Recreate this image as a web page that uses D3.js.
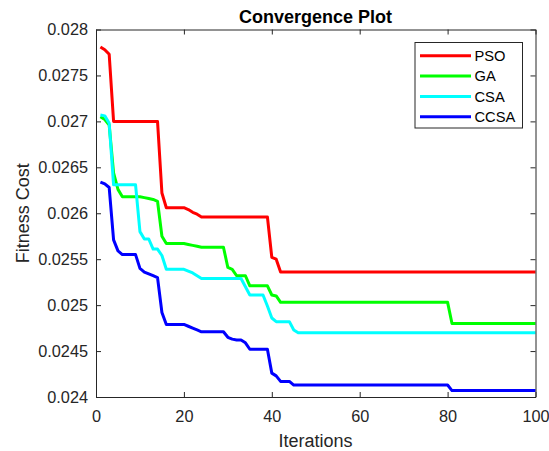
<!DOCTYPE html>
<html>
<head>
<meta charset="utf-8">
<script src="https://cdn.jsdelivr.net/npm/d3@7"></script>
<style>
  html, body { margin: 0; padding: 0; background: #fff; }
  svg { display: block; font-family: "Liberation Sans", Arial, Helvetica, sans-serif; }
</style>
</head>
<body>
<svg id="chart" width="549" height="451"></svg>
<script>
// ---------------- DATA ----------------
const iterations = d3.range(1, 101);
const seriesNames = ["PSO", "GA", "CSA", "CCSA"];
const seriesColors = ["#ff0000", "#00ff00", "#00ffff", "#0000ff"];

const PSO = [
  0.02781,0.02778,0.02773,0.02700,0.02700,0.02700,0.02700,0.02700,0.02700,0.02700,
  0.02700,0.02700,0.02700,0.02700,0.02622,0.02606,0.02606,0.02606,0.02606,0.02606,
  0.02604,0.02601,0.02599,0.02596,0.02596,0.02596,0.02596,0.02596,0.02596,0.02596,
  0.02596,0.02596,0.02596,0.02596,0.02596,0.02596,0.02596,0.02596,0.02596,0.02552,
  0.02550,0.02536,0.02536,0.02536,0.02536,0.02536,0.02536,0.02536,0.02536,0.02536,
  0.02536,0.02536,0.02536,0.02536,0.02536,0.02536,0.02536,0.02536,0.02536,0.02536,
  0.02536,0.02536,0.02536,0.02536,0.02536,0.02536,0.02536,0.02536,0.02536,0.02536,
  0.02536,0.02536,0.02536,0.02536,0.02536,0.02536,0.02536,0.02536,0.02536,0.02536,
  0.02536,0.02536,0.02536,0.02536,0.02536,0.02536,0.02536,0.02536,0.02536,0.02536,
  0.02536,0.02536,0.02536,0.02536,0.02536,0.02536,0.02536,0.02536,0.02536,0.02536
];
const GA = [
  0.02705,0.02702,0.02696,0.02644,0.02626,0.02618,0.02618,0.02618,0.02618,0.02618,
  0.02617,0.02616,0.02615,0.02613,0.02575,0.02567,0.02567,0.02567,0.02567,0.02567,
  0.02566,0.02565,0.02564,0.02563,0.02563,0.02563,0.02563,0.02563,0.02563,0.02541,
  0.02539,0.02532,0.02532,0.02532,0.02521,0.02521,0.02521,0.02521,0.02521,0.02511,
  0.02510,0.02503,0.02503,0.02503,0.02503,0.02503,0.02503,0.02503,0.02503,0.02503,
  0.02503,0.02503,0.02503,0.02503,0.02503,0.02503,0.02503,0.02503,0.02503,0.02503,
  0.02503,0.02503,0.02503,0.02503,0.02503,0.02503,0.02503,0.02503,0.02503,0.02503,
  0.02503,0.02503,0.02503,0.02503,0.02503,0.02503,0.02503,0.02503,0.02503,0.02503,
  0.02480,0.02480,0.02480,0.02480,0.02480,0.02480,0.02480,0.02480,0.02480,0.02480,
  0.02480,0.02480,0.02480,0.02480,0.02480,0.02480,0.02480,0.02480,0.02480,0.02480
];
const CSA = [
  0.02707,0.02706,0.02698,0.02631,0.02631,0.02631,0.02631,0.02631,0.02631,0.02580,
  0.02572,0.02572,0.02561,0.02561,0.02554,0.02539,0.02539,0.02539,0.02539,0.02539,
  0.02537,0.02535,0.02532,0.02529,0.02529,0.02529,0.02529,0.02529,0.02529,0.02529,
  0.02529,0.02529,0.02529,0.02520,0.02511,0.02511,0.02511,0.02511,0.02499,0.02486,
  0.02482,0.02482,0.02482,0.02482,0.02473,0.02470,0.02470,0.02470,0.02470,0.02470,
  0.02470,0.02470,0.02470,0.02470,0.02470,0.02470,0.02470,0.02470,0.02470,0.02470,
  0.02470,0.02470,0.02470,0.02470,0.02470,0.02470,0.02470,0.02470,0.02470,0.02470,
  0.02470,0.02470,0.02470,0.02470,0.02470,0.02470,0.02470,0.02470,0.02470,0.02470,
  0.02470,0.02470,0.02470,0.02470,0.02470,0.02470,0.02470,0.02470,0.02470,0.02470,
  0.02470,0.02470,0.02470,0.02470,0.02470,0.02470,0.02470,0.02470,0.02470,0.02470
];
const CCSA = [
  0.02634,0.02632,0.02628,0.02571,0.02559,0.02555,0.02555,0.02555,0.02555,0.02540,
  0.02536,0.02534,0.02532,0.02530,0.02492,0.02479,0.02479,0.02479,0.02479,0.02479,
  0.02477,0.02475,0.02473,0.02471,0.02471,0.02471,0.02471,0.02471,0.02471,0.02465,
  0.02463,0.02462,0.02462,0.02459,0.02452,0.02452,0.02452,0.02452,0.02452,0.02426,
  0.02423,0.02417,0.02417,0.02417,0.02413,0.02413,0.02413,0.02413,0.02413,0.02413,
  0.02413,0.02413,0.02413,0.02413,0.02413,0.02413,0.02413,0.02413,0.02413,0.02413,
  0.02413,0.02413,0.02413,0.02413,0.02413,0.02413,0.02413,0.02413,0.02413,0.02413,
  0.02413,0.02413,0.02413,0.02413,0.02413,0.02413,0.02413,0.02413,0.02413,0.02413,
  0.02407,0.02407,0.02407,0.02407,0.02407,0.02407,0.02407,0.02407,0.02407,0.02407,
  0.02407,0.02407,0.02407,0.02407,0.02407,0.02407,0.02407,0.02407,0.02407,0.02407
];
const seriesValues = [PSO, GA, CSA, CCSA];

const xTicks = [0, 20, 40, 60, 80, 100];
const xTickLabels = ["0", "20", "40", "60", "80", "100"];
const yTicks = [0.024, 0.0245, 0.025, 0.0255, 0.026, 0.0265, 0.027, 0.0275, 0.028];
const yTickLabels = ["0.024", "0.0245", "0.025", "0.0255", "0.026", "0.0265", "0.027", "0.0275", "0.028"];

const titleText = "Convergence Plot";
const xLabelText = "Iterations";
const yLabelText = "Fitness Cost";

// ---------------- LAYOUT ----------------
const svg = d3.select("#chart");
const L = 96, R = 535.5, T = 29.5, B = 397;
const axisColor = "#262626";

const x = d3.scaleLinear().domain([0, 100]).range([L, R]);
const y = d3.scaleLinear().domain([0.024, 0.028]).range([B, T]);

// lines
const line = d3.line()
  .x((d, i) => x(iterations[i]))
  .y(d => y(d));

const plot = svg.append("g");
seriesValues.forEach((vals, k) => {
  plot.append("path")
    .datum(vals)
    .attr("d", line)
    .attr("fill", "none")
    .attr("stroke", seriesColors[k])
    .attr("stroke-width", 3)
    .attr("stroke-linejoin", "round")
    .attr("stroke-linecap", "butt");
});

// axes
function styleAxis(g) {
  g.selectAll(".domain").attr("stroke", axisColor).attr("stroke-width", 1);
  g.selectAll(".tick line").attr("stroke", axisColor).attr("stroke-width", 1);
  g.selectAll(".tick text").attr("fill", axisColor)
    .style("font-size", "16.3px")
    .style("font-family", "'Liberation Sans', Arial, sans-serif");
}

const xAxis = d3.axisBottom(x).tickValues(xTicks)
  .tickFormat((d, i) => xTickLabels[i]).tickSizeInner(-5).tickSizeOuter(0).tickPadding(13);
svg.append("g").attr("transform", `translate(0,${B})`).call(xAxis).call(styleAxis);

const xAxisTop = d3.axisTop(x).tickValues(xTicks)
  .tickFormat("").tickSizeInner(-5).tickSizeOuter(0);
svg.append("g").attr("transform", `translate(0,${T})`).call(xAxisTop).call(styleAxis);

const yAxis = d3.axisLeft(y).tickValues(yTicks)
  .tickFormat((d, i) => yTickLabels[i]).tickSizeInner(-5).tickSizeOuter(0).tickPadding(8);
svg.append("g").attr("transform", `translate(${L},0)`).call(yAxis).call(styleAxis);

const yAxisRight = d3.axisRight(y).tickValues(yTicks)
  .tickFormat("").tickSizeInner(-5).tickSizeOuter(0);
svg.append("g").attr("transform", `translate(${R},0)`).call(yAxisRight).call(styleAxis);

// title & labels
svg.append("text")
  .attr("x", 315.5).attr("y", 23)
  .attr("text-anchor", "middle")
  .attr("font-weight", "bold")
  .attr("font-size", "18px")
  .attr("fill", "#000")
  .text(titleText);

svg.append("text")
  .attr("x", 315.5).attr("y", 446.5)
  .attr("text-anchor", "middle")
  .attr("font-size", "18px")
  .attr("fill", axisColor)
  .text(xLabelText);

svg.append("text")
  .attr("transform", `translate(28.5,${(T + B) / 2}) rotate(-90)`)
  .attr("text-anchor", "middle")
  .attr("font-size", "18px")
  .attr("fill", axisColor)
  .text(yLabelText);

// legend
const lg = svg.append("g");
lg.append("rect")
  .attr("x", 415).attr("y", 42.5).attr("width", 107.5).attr("height", 85.5)
  .attr("fill", "#fff").attr("stroke", axisColor).attr("stroke-width", 1);
const legendY = [55.7, 76.0, 96.5, 116.7];
seriesNames.forEach((name, k) => {
  lg.append("line")
    .attr("x1", 420).attr("x2", 471)
    .attr("y1", legendY[k]).attr("y2", legendY[k])
    .attr("stroke", seriesColors[k]).attr("stroke-width", 3);
  lg.append("text")
    .attr("x", 474.5).attr("y", legendY[k] + 5.3)
    .attr("font-size", "14.7px")
    .attr("fill", "#000")
    .text(name);
});
</script>
</body>
</html>
